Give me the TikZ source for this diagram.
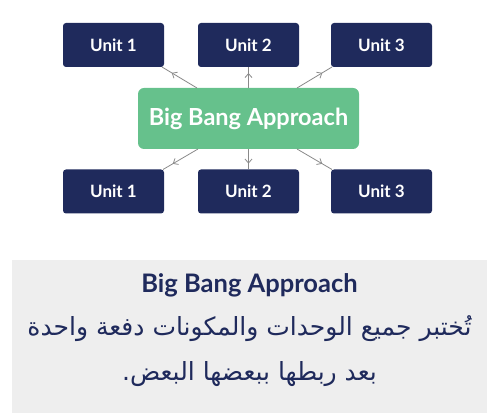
\documentclass[tikz,border=0pt]{standalone}
\usepackage{fontspec}
\setmainfont{Lato}
\newfontfamily\arabicfont[Script=Arabic,WordSpace=1.9]{DejaVu Sans}
\newfontfamily\arabicfontb[Script=Arabic]{DejaVu Sans}
\TeXXeTstate=1
\usetikzlibrary{decorations.markings,arrows.meta}
\definecolor{navy}{HTML}{1F2A5C}
\definecolor{bbgreen}{HTML}{66C18C}
\definecolor{panel}{HTML}{EEEEEE}
\definecolor{conn}{HTML}{8A8A8A}
\begin{document}
\begin{tikzpicture}[x=1pt,y=-1pt,
  unitbox/.style={fill=navy,rounded corners=3pt,minimum width=101pt,minimum height=44pt,text=white,font=\bfseries\fontsize{17}{20}\selectfont,inner sep=0pt},
  hub/.style={fill=bbgreen,rounded corners=6pt,minimum width=221pt,minimum height=61pt,text=white,font=\bfseries\fontsize{23.5}{26}\selectfont,inner sep=0pt},
  link/.style={draw=conn,line width=0.8pt,postaction={decorate},decoration={markings,mark=at position 0.72 with {\arrow{Straight Barb[length=4pt,width=7pt,line width=0.8pt]}}}}]
\useasboundingbox (0,0) rectangle (500,419);
\fill[panel] (12,260) rectangle (487,413);
\node[unitbox] (t1) at (113.5,45) {Unit 1};
\node[unitbox] (t2) at (248.5,45) {Unit 2};
\node[unitbox] (t3) at (381.5,45) {Unit 3};
\node[hub] (h) at (248.5,118.5) {Big Bang Approach};
\node[unitbox] (b1) at (113.5,191.5) {Unit 1};
\node[unitbox] (b2) at (248.5,191.5) {Unit 2};
\node[unitbox] (b3) at (381.5,191.5) {Unit 3};
\coordinate (ht1) at (197,88);
\coordinate (ht2) at (248.5,88);
\coordinate (ht3) at (297,88);
\coordinate (hb1) at (198,149);
\coordinate (hb2) at (248.5,149);
\coordinate (hb3) at (297,149);
\coordinate (et1) at (162,67);
\coordinate (et3) at (332,67);
\coordinate (eb1) at (163,169.5);
\coordinate (eb3) at (332,169.5);
\draw[link] (ht1) -- (et1);
\draw[link] (ht2) -- (t2.south);
\draw[link] (ht3) -- (et3);
\draw[link] (hb1) -- (eb1);
\draw[link] (hb2) -- (b2.north);
\draw[link] (hb3) -- (eb3);
\node[text=navy,font=\bfseries\fontsize{25.5}{30}\selectfont] (title) at (249.5,285) {Big Bang Approach};
\node[text=navy,font=\arabicfont\fontsize{25}{30}\selectfont] (l1) at (249.5,329) {\beginR تُختبر جميع الوحدات والمكونات دفعة واحدة\endR};
\node[text=navy,font=\arabicfontb\fontsize{25}{30}\selectfont] (l2) at (249.5,374) {\beginR بعد ربطها ببعضها البعض.\endR};
\end{tikzpicture}
\end{document}
